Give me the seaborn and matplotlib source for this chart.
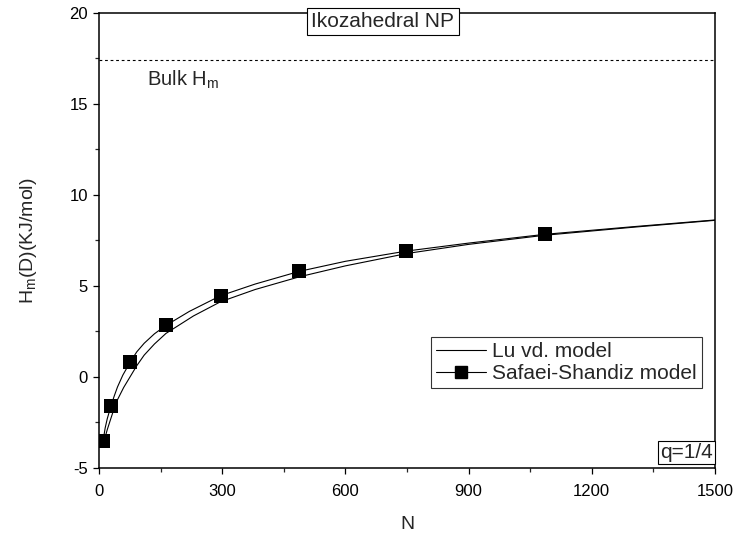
import matplotlib
matplotlib.use("Agg")
import matplotlib.pyplot as plt
from matplotlib.lines import Line2D
from matplotlib.ticker import MultipleLocator
import pandas as pd
import seaborn as sns

# Safaei-Shandiz model, marker points
n_markers = [10, 29, 76, 163, 296, 488, 748, 1085]
h_markers = [-3.5, -1.6, 0.82, 2.83, 4.46, 5.80, 6.91, 7.83]

# curves
n_safaei = [10, 15, 20, 29, 37, 45, 58, 76, 92, 110, 135, 163, 220, 296, 380, 488,
            600, 748, 900, 1085, 1300, 1500]
h_safaei = [-3.5, -2.8, -2.3, -1.6, -1.05, -0.55, 0.1, 0.82, 1.38, 1.85, 2.37, 2.83,
            3.6, 4.46, 5.1, 5.80, 6.35, 6.91, 7.35, 7.83, 8.25, 8.62]

n_lu = [12, 16, 20, 29, 37, 45, 60, 76, 92, 110, 135, 163, 230, 296, 380, 488, 600,
        750, 900, 1085, 1300, 1500]
h_lu = [-3.6, -3.22, -2.9, -2.27, -1.72, -1.25, -0.58, 0.02, 0.62, 1.2, 1.81, 2.39,
        3.35, 4.13, 4.8, 5.50, 6.1, 6.78, 7.28, 7.78, 8.22, 8.60]

bulk_h = 17.4

sns.set_theme(style="ticks")
plt.rcParams["font.family"] = ["Liberation Sans", "DejaVu Sans"]
plt.rcParams["mathtext.default"] = "regular"
plt.rcParams["axes.unicode_minus"] = False

fig, ax = plt.subplots(figsize=(7.4, 5.41), dpi=100)
fig.subplots_adjust(left=0.1338, right=0.9662, top=0.9765, bottom=0.1349)

df_lu = pd.DataFrame({"N": n_lu, "H": h_lu})
df_ss = pd.DataFrame({"N": n_safaei, "H": h_safaei})
df_mk = pd.DataFrame({"N": n_markers, "H": h_markers})

sns.lineplot(data=df_lu, x="N", y="H", ax=ax, color="black", lw=0.8, sort=True)
sns.lineplot(data=df_ss, x="N", y="H", ax=ax, color="black", lw=0.8, sort=True)
sns.scatterplot(data=df_mk, x="N", y="H", ax=ax, color="black", marker="s",
                s=95, edgecolor="black", linewidth=0, zorder=5)

ax.axhline(bulk_h, color="black", lw=0.8, ls=(0, (2.5, 2.5)))
ax.text(118, 16.0, "Bulk H$_{m}$", fontsize=14.5, va="baseline", ha="left")

ax.set_xlim(0, 1500)
ax.set_ylim(-5, 20)
ax.xaxis.set_major_locator(MultipleLocator(300))
ax.xaxis.set_minor_locator(MultipleLocator(150))
ax.yaxis.set_major_locator(MultipleLocator(5))
ax.yaxis.set_minor_locator(MultipleLocator(2.5))
ax.tick_params(which="major", direction="out", length=4.5, width=0.9, labelsize=12,
               colors="black", top=False, right=False)
ax.tick_params(axis="x", which="major", pad=7)
ax.tick_params(which="minor", direction="out", length=3, width=0.9, top=False, right=False)
for sp in ax.spines.values():
    sp.set_visible(True)
    sp.set_linewidth(1.1)
    sp.set_color("black")

ax.set_xlabel("N", fontsize=14, labelpad=12)
ax.set_ylabel("H$_{m}$(D)(KJ/mol)", fontsize=14, labelpad=22)

handles = [
    Line2D([], [], color="black", lw=0.8),
    Line2D([], [], color="black", lw=0.8, marker="s", markersize=9),
]
leg = ax.legend(handles, ["Lu vd. model", "Safaei-Shandiz model"], loc="upper right",
                bbox_to_anchor=(0.979, 0.288), borderaxespad=0, fontsize=15,
                frameon=True, fancybox=False, edgecolor="black", handlelength=2.4,
                handletextpad=0.3, borderpad=0.25, labelspacing=0.15)
leg.get_frame().set_linewidth(0.8)

ax.text(0.461, 0.98, "Ikozahedral NP", transform=ax.transAxes, fontsize=15,
        ha="center", va="center", zorder=10, clip_on=False,
        bbox=dict(boxstyle="square,pad=0.2", fc="white", ec="black", lw=0.8))
ax.text(0.997, 0.014, "q=1/4", transform=ax.transAxes, fontsize=15,
        ha="right", va="bottom", zorder=10,
        bbox=dict(boxstyle="square,pad=0.1", fc="white", ec="black", lw=0.8))

fig.savefig("out.png", dpi=100)
